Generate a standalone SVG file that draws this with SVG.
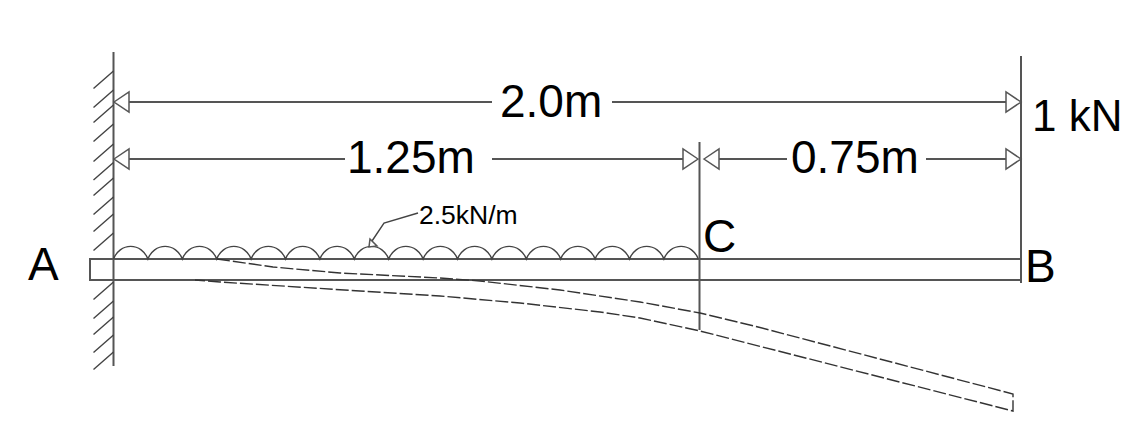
<svg xmlns="http://www.w3.org/2000/svg" width="1146" height="448" viewBox="0 0 1146 448">
<style>
.l{fill:none;stroke:#555;stroke-width:2}
.t{fill:none;stroke:#444;stroke-width:1.4}
.d{fill:none;stroke:#333;stroke-width:1.4;stroke-dasharray:13 3}
.a{fill:#fff;stroke:#555;stroke-width:1.5}
text{font-family:"Liberation Sans",Arial,sans-serif;fill:#000}
</style>
<defs>
<path id="al" class="a" d="M0 0L15 -10V10Z"/>
<path id="ar" class="a" d="M0 0L-15 -10V10Z"/>
</defs>
<g id="wall">
<path class="l" d="M113.500 52V366"/>
<path class="t" d="M113.500 71l-20 17.500M113.500 90l-20 17.500M113.500 105l-20 17.500M113.500 124l-20 17.500M113.500 144l-20 17.500M113.500 162.500l-20 17.500M113.500 178l-20 17.500M113.500 197l-20 17.500M113.500 214l-20 17.500M113.500 233l-20 17.500M113.500 282l-20 17.500M113.500 301l-20 17.500M113.500 317l-20 17.500M113.500 335l-20 17.500M113.500 352l-20 17.500"/>
</g>
<g id="beam"><rect class="l" x="90" y="259" width="931" height="21"/></g>
<g id="load"><path class="t" d="M113.500 259a18.500 20 0 0 1 34.400 0a18.500 20 0 0 1 34.400 0a18.500 20 0 0 1 34.400 0a18.500 20 0 0 1 34.400 0a18.500 20 0 0 1 34.400 0a18.500 20 0 0 1 34.400 0a18.500 20 0 0 1 34.400 0a18.500 20 0 0 1 34.400 0a18.500 20 0 0 1 34.400 0a18.500 20 0 0 1 34.400 0a18.500 20 0 0 1 34.400 0a18.500 20 0 0 1 34.400 0a18.500 20 0 0 1 34.400 0a18.500 20 0 0 1 34.400 0a18.500 20 0 0 1 34.400 0a18.500 20 0 0 1 34.400 0a18.500 20 0 0 1 34.400 0"/></g>
<g id="supports"><path class="l" d="M699.500 142V330M1021 56V283"/></g>
<g id="connectors">
<path class="l" d="M129 102H492M612 102H1006M129 159H345M492 159H683M719 159H787M926 159H1006"/>
<use href="#al" x="114" y="102"/><use href="#ar" x="1021" y="102"/>
<use href="#al" x="114" y="159"/><use href="#ar" x="698" y="159"/>
<use href="#al" x="704" y="159"/><use href="#ar" x="1021" y="159"/>
<path class="t" d="M418 213L384 223L372 241"/><path class="a" d="M370 239L377 246L369 247Z"/>
<path class="d" d="M217 259L273 267L340 273L440 278L480 281L560 290L640 302L700 313L758 327L1013 394V411L700 331L640 318L600 312L520 303L440 296L360 291L220 282L195 280"/>
</g>
<g id="labels" font-size="46">
<text x="500" y="117">2.0m</text>
<text x="347" y="173">1.25m</text>
<text x="791" y="172.500">0.75m</text>
<text x="1032" y="131" font-size="44">1 kN</text>
<text x="703" y="252">C</text>
<text x="28" y="280">A</text>
<text x="1025" y="282">B</text>
<text x="419" y="224" font-size="26.500">2.5kN/m</text>
</g>
</svg>
